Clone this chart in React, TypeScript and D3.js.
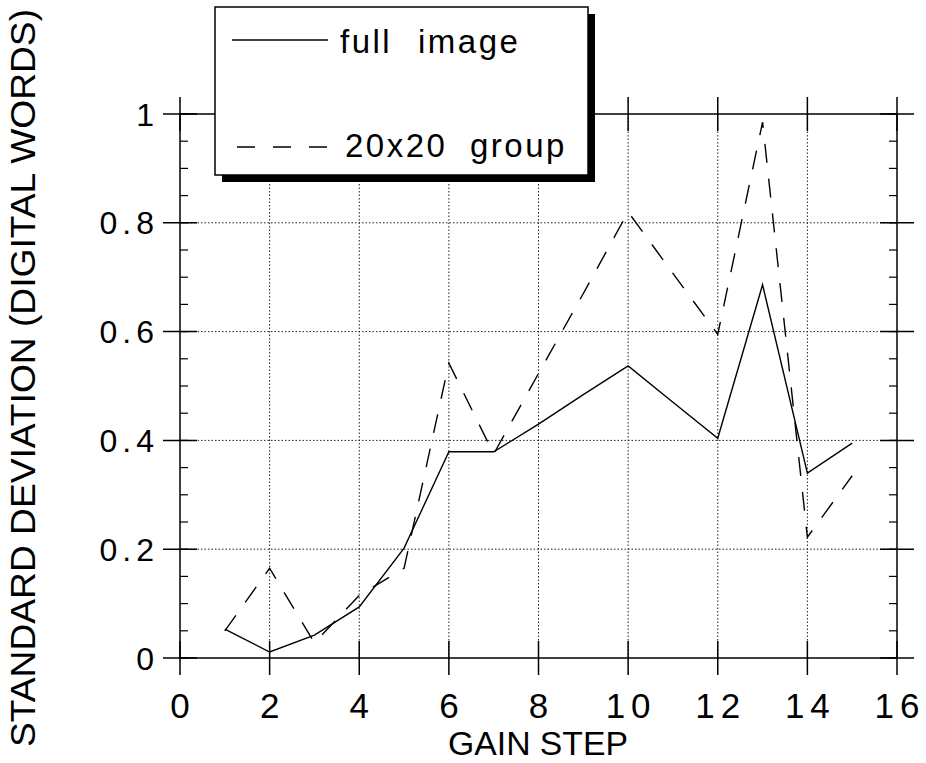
import React from "react";
import * as d3 from "d3";

// Gain steps and measured standard deviations
const gainSteps = [1, 2, 3, 4, 5, 6, 7, 8, 9, 10, 11, 12, 13, 14, 15];
const fullImage = [0.053, 0.011, 0.042, 0.094, 0.202, 0.379, 0.379, 0.43, 0.484, 0.537, 0.47, 0.404, 0.686, 0.34, 0.395];
const group20x20 = [0.05, 0.165, 0.028, 0.115, 0.165, 0.542, 0.375, 0.523, 0.67, 0.82, 0.707, 0.595, 0.985, 0.222, 0.335];

const xTicks = [0, 2, 4, 6, 8, 10, 12, 14, 16];
const yTicks = [0, 0.2, 0.4, 0.6, 0.8, 1];
const yMinorTicks = d3.range(0, 1.0001, 0.05);

const legendLabels = [
  ["full", "image"],
  ["20x20", "group"],
];

const W = 926;
const H = 763;
const M = { left: 180, right: 897, top: 114, bottom: 658 };

export default function App() {
  const x = d3.scaleLinear().domain([0, 16]).range([M.left, M.right]);
  const y = d3.scaleLinear().domain([0, 1]).range([M.bottom, M.top]);

  const line = d3
    .line<number>()
    .x((_, i) => x(gainSteps[i]))
    .y((d) => y(d));

  const majorLen = 17;
  const minorLen = 8;
  const helv = "'Liberation Sans', Arial, Helvetica, sans-serif";
  const narrow = "'Liberation Sans Narrow', 'Arial Narrow', 'Liberation Sans', Arial, sans-serif";

  // legend box geometry
  const lg = { x: 215, y: 7, w: 373, h: 168, shadow: 7 };

  return (
    <svg
      width={W}
      height={H}
      viewBox={`0 0 ${W} ${H}`}
      style={{ position: "absolute", left: 0, top: 0, background: "#fff" }}
    >
      <rect x={0} y={0} width={W} height={H} fill="#fff" />

      {/* dotted grid */}
      <g stroke="#222" strokeWidth={1} strokeDasharray="1.5,2" fill="none">
        {xTicks.slice(1, -1).map((t) => (
          <line key={"gx" + t} x1={x(t)} x2={x(t)} y1={y(1)} y2={y(0)} />
        ))}
        {yTicks.slice(1, -1).map((t) => (
          <line key={"gy" + t} x1={x(0)} x2={x(16)} y1={y(t)} y2={y(t)} />
        ))}
      </g>

      {/* frame */}
      <rect
        x={x(0)}
        y={y(1)}
        width={x(16) - x(0)}
        height={y(0) - y(1)}
        fill="none"
        stroke="#000"
        strokeWidth={1.5}
      />

      {/* major ticks crossing the frame */}
      <g stroke="#000" strokeWidth={1.5}>
        {xTicks.map((t) => (
          <g key={"tx" + t}>
            <line x1={x(t)} x2={x(t)} y1={y(0) - majorLen} y2={y(0) + majorLen} />
            <line x1={x(t)} x2={x(t)} y1={y(1) - majorLen} y2={y(1) + majorLen} />
          </g>
        ))}
        {yTicks.map((t) => (
          <g key={"ty" + t}>
            <line x1={x(0) - majorLen} x2={x(0) + majorLen} y1={y(t)} y2={y(t)} />
            <line x1={x(16) - majorLen} x2={x(16) + majorLen} y1={y(t)} y2={y(t)} />
          </g>
        ))}
      </g>

      {/* minor ticks on vertical axes */}
      <g stroke="#000" strokeWidth={1.2}>
        {yMinorTicks.map((t, i) => (
          <g key={"my" + i}>
            <line x1={x(0)} x2={x(0) + minorLen} y1={y(t)} y2={y(t)} />
            <line x1={x(16) - minorLen} x2={x(16)} y1={y(t)} y2={y(t)} />
          </g>
        ))}
      </g>

      {/* data lines */}
      <path d={line(fullImage) || ""} fill="none" stroke="#000" strokeWidth={1.4} />
      <path
        d={line(group20x20) || ""}
        fill="none"
        stroke="#000"
        strokeWidth={1.4}
        strokeDasharray="19,16"
      />

      {/* x tick labels */}
      <g fontFamily={helv} fontSize={35} fill="#000" textAnchor="middle">
        {xTicks.map((t) => (
          <text key={"lx" + t} x={x(t) + 3} y={718} letterSpacing={6}>
            {t}
          </text>
        ))}
      </g>

      {/* y tick labels */}
      <g fontFamily={helv} fontSize={32} fill="#000" textAnchor="end">
        {yTicks.map((t) => (
          <text key={"ly" + t} x={159} y={y(t) + 11.5} letterSpacing={5}>
            {t === 0 || t === 1 ? String(t) : t.toFixed(1)}
          </text>
        ))}
      </g>

      {/* axis titles */}
      <text
        x={538}
        y={755}
        fontFamily={narrow}
        fontSize={34}
        textAnchor="middle"
        textLength={180}
        lengthAdjust="spacingAndGlyphs"
        fill="#000"
      >
        GAIN STEP
      </text>
      <text
        transform={`translate(35, 378) rotate(-90)`}
        fontFamily={narrow}
        fontSize={35}
        textAnchor="middle"
        textLength={738}
        lengthAdjust="spacingAndGlyphs"
        fill="#000"
      >
        STANDARD DEVIATION (DIGITAL WORDS)
      </text>

      {/* legend */}
      <g>
        <rect x={lg.x + lg.shadow} y={lg.y + lg.shadow} width={lg.w} height={lg.h} fill="#000" />
        <rect x={lg.x} y={lg.y} width={lg.w} height={lg.h} fill="#fff" stroke="#000" strokeWidth={1.5} />
        <line x1={232} x2={328} y1={40} y2={40} stroke="#000" strokeWidth={1.4} />
        <line x1={237} x2={328} y1={147} y2={147} stroke="#000" strokeWidth={1.4} strokeDasharray="18,18" />
        <g fontFamily={helv} fontSize={33} fill="#000" letterSpacing={2.5}>
          <text x={340} y={53}>{legendLabels[0][0]}</text>
          <text x={418} y={53}>{legendLabels[0][1]}</text>
          <text x={345} y={157}>{legendLabels[1][0]}</text>
          <text x={470} y={157}>{legendLabels[1][1]}</text>
        </g>
      </g>
    </svg>
  );
}
